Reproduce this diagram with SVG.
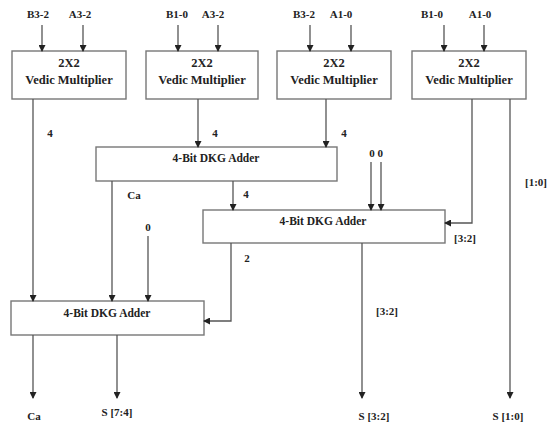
<svg xmlns="http://www.w3.org/2000/svg" width="548" height="426" viewBox="0 0 548 426">
<defs>
<marker id="ah" markerWidth="7" markerHeight="7" refX="6" refY="3.5" orient="auto" markerUnits="userSpaceOnUse">
<path d="M0,0 L7,3.5 L0,7 Z" fill="#222"/>
</marker>
<style>
.box{fill:#fff;stroke:#777;stroke-width:1.4}
.t{font-family:"Liberation Serif","Times New Roman",serif;font-weight:bold;fill:#222;text-anchor:middle}
.bt{font-size:12.5px}
.at{font-size:11.5px}
.lb{font-size:11px}
.c{fill:none;stroke:#555;stroke-width:1.3}
.a{marker-end:url(#ah)}
</style>
</defs>
<rect width="548" height="426" fill="#fff"/>
<g id="m1">
<rect class="box" x="12" y="51" width="114" height="48"/>
<text class="t bt" x="69" y="67">2X2</text>
<text class="t bt" x="69" y="84">Vedic Multiplier</text>
</g>
<g id="m2">
<rect class="box" x="146" y="51" width="112" height="48"/>
<text class="t bt" x="202" y="67">2X2</text>
<text class="t bt" x="202" y="84">Vedic Multiplier</text>
</g>
<g id="m3">
<rect class="box" x="277" y="51" width="114" height="48"/>
<text class="t bt" x="334" y="67">2X2</text>
<text class="t bt" x="334" y="84">Vedic Multiplier</text>
</g>
<g id="m4">
<rect class="box" x="412" y="51" width="114" height="48"/>
<text class="t bt" x="469" y="67">2X2</text>
<text class="t bt" x="469" y="84">Vedic Multiplier</text>
</g>
<g id="adder1">
<rect class="box" x="96" y="147" width="241" height="34"/>
<text class="t at" x="216" y="162">4-Bit DKG Adder</text>
</g>
<g id="adder2">
<rect class="box" x="203" y="210" width="242" height="33"/>
<text class="t at" x="323" y="225">4-Bit DKG Adder</text>
</g>
<g id="adder3">
<rect class="box" x="11" y="301" width="193" height="34"/>
<text class="t at" x="107" y="317">4-Bit DKG Adder</text>
</g>
<g id="labels">
<text class="t lb" x="38" y="18">B3-2</text>
<text class="t lb" x="80" y="18">A3-2</text>
<text class="t lb" x="177" y="18">B1-0</text>
<text class="t lb" x="213" y="18">A3-2</text>
<text class="t lb" x="304" y="18">B3-2</text>
<text class="t lb" x="341" y="18">A1-0</text>
<text class="t lb" x="432" y="18">B1-0</text>
<text class="t lb" x="480" y="18">A1-0</text>
<text class="t lb" x="50" y="137">4</text>
<text class="t lb" x="215" y="137">4</text>
<text class="t lb" x="344" y="137">4</text>
<text class="t lb" x="536" y="186">[1:0]</text>
<text class="t lb" x="134" y="199">Ca</text>
<text class="t lb" x="246" y="198">4</text>
<text class="t lb" x="376" y="157">0 0</text>
<text class="t lb" x="465" y="242">[3:2]</text>
<text class="t lb" x="148" y="231">0</text>
<text class="t lb" x="247" y="262">2</text>
<text class="t lb" x="387" y="315">[3:2]</text>
<text class="t lb" x="34" y="420">Ca</text>
<text class="t lb" x="117" y="416">S [7:4]</text>
<text class="t lb" x="374" y="420">S [3:2]</text>
<text class="t lb" x="508" y="420">S [1:0]</text>
</g>
<g id="connectors">
<path class="c a" d="M42,25 V51"/>
<path class="c a" d="M83,25 V51"/>
<path class="c a" d="M178,25 V51"/>
<path class="c a" d="M218,25 V51"/>
<path class="c a" d="M310,25 V51"/>
<path class="c a" d="M351,25 V51"/>
<path class="c a" d="M444,25 V51"/>
<path class="c a" d="M484,25 V51"/>
<path class="c a" d="M33,99 V301"/>
<path class="c a" d="M198,99 V147"/>
<path class="c a" d="M326,99 V147"/>
<path class="c a" d="M472,99 V223 H445"/>
<path class="c a" d="M510,99 V398"/>
<path class="c a" d="M112,181 V301"/>
<path class="c a" d="M233,181 V210"/>
<path class="c a" d="M371,162 V210"/>
<path class="c a" d="M381,162 V210"/>
<path class="c a" d="M362,243 V398"/>
<path class="c a" d="M231,243 V321 H204"/>
<path class="c a" d="M148,236 V301"/>
<path class="c a" d="M33,335 V398"/>
<path class="c a" d="M117,335 V398"/>
</g>
</svg>
